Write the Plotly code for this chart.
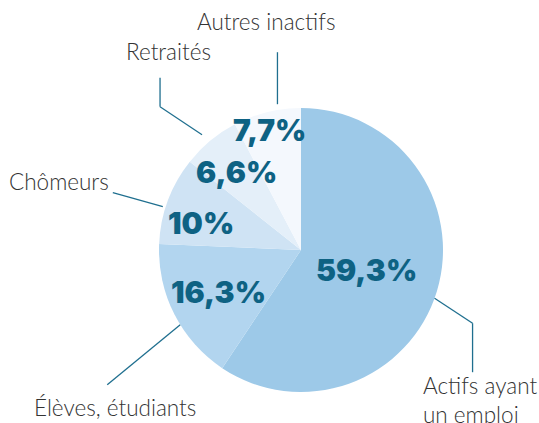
import math

import plotly.graph_objects as go

# Données (en %), dans l'ordre horaire depuis midi
categories = ["Actifs ayant un emploi", "Élèves, étudiants", "Chômeurs", "Retraités", "Autres inactifs"]
values = [59.3, 16.3, 10.0, 6.6, 7.7]
value_labels = ["59,3%", "16,3%", "10%", "6,6%", "7,7%"]
legend_labels = ["Actifs ayant<br>un emploi", "Élèves, étudiants", "Chômeurs", "Retraités", "Autres inactifs"]
colors = ["#9dc9e8", "#b2d5ef", "#cfe3f4", "#e4eff9", "#f4f8fd"]

W, H = 539, 423
CX, CY, R = 301, 250, 142  # pie centre / radius in pixels
TEXT_COLOR = "#0e6283"
LINE_COLOR = "#1f6f8f"

# position of the percentage inside each slice: fraction of radius, angle nudge (deg)
label_radius = [0.48, 0.655, 0.73, 0.715, 0.875]
label_nudge = [0.0, 0.0, -5.6, 0.0, -1.0]


def px(x, y):
    """pixel (top-left origin) -> paper coords"""
    return x / W, 1 - y / H


def mid_angles(vals):
    total = sum(vals)
    out, acc = [], 0.0
    for v in vals:
        out.append((acc + v / 2) / total * 360)
        acc += v
    return out


def polar(angle_deg, r):
    a = math.radians(angle_deg)
    return CX + r * math.sin(a), CY - r * math.cos(a)


fig = go.Figure(go.Pie(
    labels=categories, values=values, sort=False, direction="clockwise", rotation=0,
    marker=dict(colors=colors, line=dict(width=0)),
    textinfo="none", hoverinfo="label+percent", showlegend=False,
    domain=dict(x=[(CX - R) / W, (CX + R) / W], y=[1 - (CY + R) / H, 1 - (CY - R) / H]),
))

angles = mid_angles(values)

# percentages inside the slices
for ang, frac, nudge, txt in zip(angles, label_radius, label_nudge, value_labels):
    x, y = px(*polar(ang + nudge, frac * R))
    fig.add_annotation(x=x, y=y, xref="paper", yref="paper", text=txt, showarrow=False,
                       font=dict(family="Inter", size=30, color=TEXT_COLOR, weight=900),
                       xanchor="center", yanchor="middle")

# leader lines: start near the pie edge (mid-angle + small nudge), then elbow offsets (px)
leaders = [
    dict(da=3.0, r=1.0, path=[(38, 25), (38, 74)], label=(421, 400), anchor="left"),
    dict(da=-4.8, r=1.0, path=[(-73, 60)], label=(115, 407), anchor="center"),
    dict(da=-3.0, r=1.02, path=[(-50, -14)], label=(59, 181), anchor="center"),
    dict(da=-1.0, r=1.07, path=[(-42, -28), (-42, -57)], label=(168, 52), anchor="center"),
    dict(da=4.7, r=1.04, path=[(0, -52)], label=(266, 22), anchor="center"),
]
for ang, ld, txt in zip(angles, leaders, legend_labels):
    x0, y0 = polar(ang + ld["da"], ld["r"] * R)
    pts = [(x0, y0)] + [(x0 + dx, y0 + dy) for dx, dy in ld["path"]]
    for (xa, ya), (xb, yb) in zip(pts[:-1], pts[1:]):
        ax, ay = px(xa, ya)
        bx, by = px(xb, yb)
        fig.add_shape(type="line", xref="paper", yref="paper", x0=ax, y0=ay, x1=bx, y1=by,
                      line=dict(color=LINE_COLOR, width=1.3))
    lx, ly = px(*ld["label"])
    fig.add_annotation(x=lx, y=ly, xref="paper", yref="paper", text=txt, showarrow=False,
                       font=dict(family="Lato", size=22.5, color="#333333", weight=300),
                       xanchor=ld["anchor"], yanchor="middle", align="left")

fig.update_layout(
    width=W, height=H, margin=dict(l=0, r=0, t=0, b=0),
    paper_bgcolor="white", plot_bgcolor="white",
)

# drop the default 8px body margin so the figure sits at the page origin
fig.write_html(
    "out.html",
    config={"displayModeBar": False},
    post_script="document.body.style.margin='0';document.body.style.overflow='hidden';",
)
